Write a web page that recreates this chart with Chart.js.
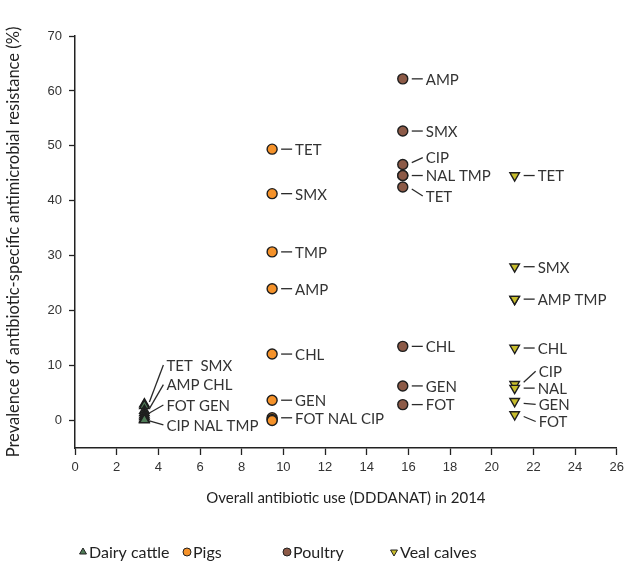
<!DOCTYPE html>
<html><head><meta charset="utf-8">
<script src="https://cdn.jsdelivr.net/npm/chart.js@4.4.1/dist/chart.umd.min.js"></script>
<style>html,body{margin:0;padding:0;background:#fff;}#wrap{position:relative;width:629px;height:561px;}</style>
</head><body><div id="wrap"><canvas id="c" width="629" height="561"></canvas></div>
<script>
// ---- data ----
const SERIES_NAMES = ['Dairy cattle', 'Pigs', 'Poultry', 'Veal calves'];
const USE_2014 = [3.33, 9.46, 15.73, 21.1]; // overall antibiotic use (DDDANAT) per sector

const DAIRY_RES    = [3.0, 2.7, 1.8, 1.4, 1.0, 0.7, 0.3, 0.2, 0.1];
const DAIRY_LABELS = ['TET  SMX', '', 'AMP CHL', '', 'FOT GEN', '', 'CIP NAL TMP', '', ''];

const PIGS_RES     = [49.4, 41.3, 30.7, 24.0, 12.1, 3.7, 0.5, 0.2, 0.0];
const PIGS_LABELS  = ['TET', 'SMX', 'TMP', 'AMP', 'CHL', 'GEN', 'FOT NAL CIP', '', ''];

const POULTRY_RES    = [62.2, 52.7, 46.6, 44.6, 44.6, 42.5, 13.5, 6.3, 2.9];
const POULTRY_LABELS = ['AMP', 'SMX', 'CIP', 'NAL TMP', '', 'TET', 'CHL', 'GEN', 'FOT'];

const VEAL_RES    = [44.6, 28.0, 22.1, 22.1, 13.2, 6.6, 5.9, 3.5, 1.1];
const VEAL_LABELS = ['TET', 'SMX', 'AMP TMP', '', 'CHL', 'CIP', 'NAL', 'GEN', 'FOT'];

const X_TICKS = [0, 2, 4, 6, 8, 10, 12, 14, 16, 18, 20, 22, 24, 26];
const Y_TICKS = [0, 10, 20, 30, 40, 50, 60, 70];

const X_TITLE = 'Overall antibiotic use (DDDANAT) in 2014';
const Y_TITLE = 'Prevalence of antibiotic-specific antimicrobial resistance (%)';

// ---- styles ----
const COLORS = ['#4f7c57', '#f5922a', '#8c5a47', '#c8bd2c'];
const STYLES = ['triangle', 'circle', 'circle', 'triangle'];
const ROTS = [0, 0, 0, 180];
const RESULTS = [DAIRY_RES, PIGS_RES, POULTRY_RES, VEAL_RES];
const LABELS = [DAIRY_LABELS, PIGS_LABELS, POULTRY_LABELS, VEAL_LABELS];

// label placement offsets (layout only)
const LABEL_OFFSETS = {
  '0-0': {dx: 22, dy: -39}, '0-2': {dx: 22, dy: -26}, '0-4': {dx: 22, dy: -10}, '0-6': {dx: 22, dy: 6},
  '2-2': {dx: 23, dy: -7}, '2-5': {dx: 23, dy: 9},
  '3-5': {dx: 24, dy: -13}, '3-7': {dx: 24, dy: 3}, '3-8': {dx: 24, dy: 7}
};

const datasets = SERIES_NAMES.map((name, s) => ({
  label: name,
  data: RESULTS[s].map(v => ({x: USE_2014[s], y: v})),
  pointStyle: STYLES[s],
  rotation: ROTS[s],
  pointRadius: s === 0 || s === 3 ? 5.5 : 5,
  backgroundColor: COLORS[s],
  borderColor: '#1e1e1e',
  borderWidth: 1.4,
  showLine: false
}));

const labelPlugin = {
  id: 'pointLabels',
  afterDatasetsDraw(chart) {
    const ctx = chart.ctx;
    ctx.save();
    ctx.font = '15px Lato';
    ctx.fillStyle = '#333';
    ctx.strokeStyle = '#2a2a2a';
    ctx.lineWidth = 1.3;
    ctx.textBaseline = 'middle';
    ctx.textAlign = 'left';
    LABELS.forEach((arr, s) => {
      const meta = chart.getDatasetMeta(s);
      arr.forEach((txt, i) => {
        if (!txt) return;
        const el = meta.data[i];
        const off = LABEL_OFFSETS[s + '-' + i] || {dx: 23, dy: 0};
        const tx = el.x + off.dx, ty = el.y + off.dy;
        ctx.beginPath();
        if (s === 0) {
          ctx.moveTo(el.x + 5, el.y + (off.dy < 0 ? -2 : 2));
        } else {
          ctx.moveTo(el.x + 9, el.y + (off.dy === 0 ? 0 : Math.sign(off.dy) * 2));
        }
        ctx.lineTo(tx - 3, ty);
        ctx.stroke();
        ctx.fillText(txt, tx, ty + 1);
      });
    });
    ctx.restore();
  }
};

// legend layout (positions only)
const LEGEND_POS = [[83, 89], [187, 193], [287, 293], [394, 400]];
const LEGEND_Y = 552;
const legendPlugin = {
  id: 'customLegend',
  afterDraw(chart) {
    const ctx = chart.ctx;
    ctx.save();
    ctx.font = '16px Lato';
    ctx.fillStyle = '#222';
    ctx.textBaseline = 'middle';
    SERIES_NAMES.forEach((name, s) => {
      const [mx, tx] = LEGEND_POS[s];
      ctx.save();
      ctx.fillStyle = COLORS[s];
      ctx.strokeStyle = '#222';
      ctx.lineWidth = 1;
      Chart.helpers.drawPoint(ctx, {pointStyle: STYLES[s], rotation: ROTS[s], radius: 4, borderWidth: 1}, mx, LEGEND_Y);
      ctx.restore();
      ctx.fillStyle = '#222';
      ctx.fillText(name, tx, LEGEND_Y + 1);
    });
    ctx.restore();
  }
};

new Chart(document.getElementById('c'), {
  type: 'scatter',
  data: {datasets},
  plugins: [labelPlugin, legendPlugin],
  options: {
    responsive: false,
    animation: false,
    events: [],
    layout: {padding: {left: 0, right: 8, top: 36, bottom: 50}},
    plugins: {legend: {display: false}, tooltip: {enabled: false}},
    scales: {
      x: {
        type: 'linear', min: 0, max: 26,
        afterBuildTicks: s => { s.ticks = X_TICKS.map(v => ({value: v})); },
        afterFit: s => { s.height = 63; },
        ticks: {font: {family: 'Liberation Sans', size: 13}, color: '#333', padding: 5, maxRotation: 0},
        grid: {drawOnChartArea: false, drawTicks: true, tickLength: 7, tickColor: '#222', tickWidth: 1.3},
        border: {color: '#222', width: 1.5},
        title: {display: true, text: X_TITLE, font: {family: 'Lato', size: 15}, color: '#222', padding: {top: 4, bottom: 4}}
      },
      y: {
        type: 'linear', min: -5, max: 70,
        afterBuildTicks: s => { s.ticks = Y_TICKS.map(v => ({value: v})); },
        afterFit: s => { s.width = 75; },
        ticks: {font: {family: 'Liberation Sans', size: 13}, color: '#333', padding: 7},
        grid: {drawOnChartArea: false, drawTicks: true, tickLength: 6, tickColor: '#222', tickWidth: 1.3},
        border: {color: '#222', width: 1.5},
        title: {display: true, text: Y_TITLE, font: {family: 'Lato', size: 16.5}, color: '#222', padding: {top: 4, bottom: 4}}
      }
    }
  }
});
</script></body></html>
